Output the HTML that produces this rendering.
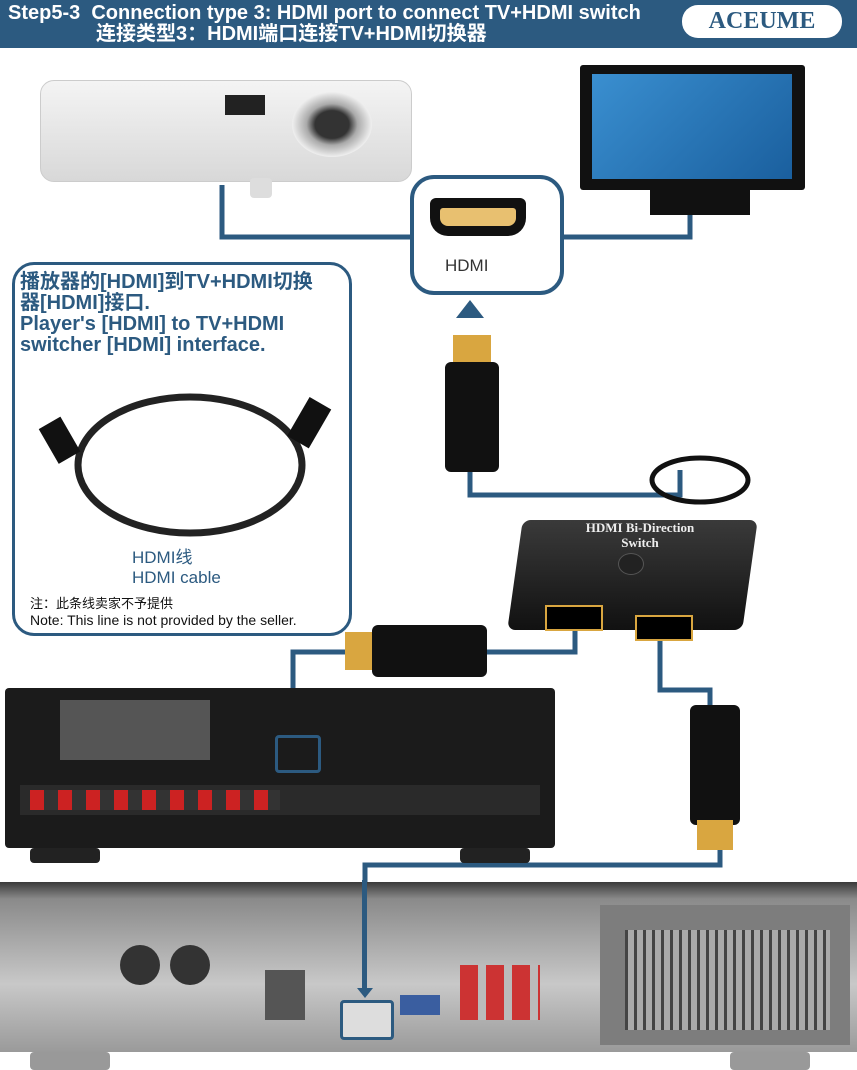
<!DOCTYPE html>
<html><head><meta charset="utf-8"><style>
body{margin:0;width:857px;height:1070px;position:relative;overflow:hidden;background:#fff;font-family:"Liberation Sans","Noto Sans CJK SC",sans-serif}
.a{position:absolute}
</style></head><body>
<div class="a" style="left:0;top:0;width:857px;height:48px;background:#2c5a80"></div>
<div class="a" style="left:8px;top:3px;color:#fff;font-weight:bold;font-size:20px;line-height:21px;white-space:nowrap">Step5-3&nbsp; Connection type 3: HDMI port to connect TV+HDMI switch<br><span style="padding-left:88px">连接类型3：HDMI端口连接TV+HDMI切换器</span></div>
<div class="a" style="left:682px;top:5px;width:160px;height:33px;background:#fff;border-radius:16px;color:#2c5a80;font:bold 24px 'Liberation Serif',serif;text-align:center;line-height:33px">ACEUME</div>
<!-- projector -->
<div class="a" style="left:40px;top:80px;width:370px;height:100px;background:linear-gradient(#f4f4f4,#d8d8d8);border-radius:14px;border:1px solid #ccc"></div>
<div class="a" style="left:225px;top:95px;width:40px;height:20px;background:#222"></div>
<div class="a" style="left:292px;top:92px;width:80px;height:65px;border-radius:50%;background:radial-gradient(#333 30%,#aaa 45%,#eee 70%)"></div>
<div class="a" style="left:250px;top:178px;width:22px;height:20px;background:#ddd;border-radius:4px"></div>
<!-- TV -->
<div class="a" style="left:580px;top:65px;width:225px;height:125px;background:#111;border-radius:3px"></div>
<div class="a" style="left:592px;top:74px;width:200px;height:105px;background:linear-gradient(135deg,#3a8fd0,#1a5f9e)"></div>
<div class="a" style="left:650px;top:190px;width:100px;height:25px;background:#111"></div>
<!-- lines -->
<svg class="a" style="left:0;top:0" width="857" height="1070">
<g fill="none" stroke="#2c5a80" stroke-width="5">
<path d="M222 185 V237 H412"/><path d="M558 237 H690 V215"/>
<path d="M470 340 V495 H680 V470"/>
<path d="M575 625 V652 H293 V715"/>
<path d="M660 630 V690 H710 V705"/>
<path d="M720 850 V865 H365 V1000"/>
</g>
<path d="M470 300 l-14 18 h28z" fill="#2c5a80"/>
<path d="M293 722 l-8 -10 h16z" fill="#2c5a80"/>
<ellipse cx="700" cy="480" rx="48" ry="22" fill="none" stroke="#111" stroke-width="5"/>
</svg>
<div class="a" style="left:410px;top:175px;width:146px;height:112px;border:4px solid #2c5a80;border-radius:24px;background:#fff"></div>
<div class="a" style="left:430px;top:198px;width:96px;height:38px;background:#111;border-radius:6px 6px 18px 18px"></div>
<div class="a" style="left:440px;top:208px;width:76px;height:18px;background:#e8c070;border-radius:3px 3px 8px 8px"></div>
<div class="a" style="left:445px;top:256px;font-size:17px;color:#333">HDMI</div>
<!-- callout -->
<div class="a" style="left:12px;top:262px;width:334px;height:368px;border:3px solid #2c5a80;border-radius:22px;background:#fff"></div>
<div class="a" style="left:20px;top:272px;color:#2c5a80;font-weight:bold;font-size:20px;line-height:21px;white-space:nowrap">播放器的[HDMI]到TV+HDMI切换<br>器[HDMI]接口.<br>Player's [HDMI] to TV+HDMI<br>switcher [HDMI] interface.</div>
<svg class="a" style="left:12px;top:380px" width="334" height="160"><ellipse cx="178" cy="85" rx="112" ry="68" fill="none" stroke="#222" stroke-width="7"/><rect x="35" y="40" width="25" height="40" fill="#111" transform="rotate(-30 48 60)"/><rect x="285" y="20" width="25" height="45" fill="#111" transform="rotate(30 297 42)"/></svg>
<div class="a" style="left:132px;top:548px;color:#2c5a80;font-size:17px;line-height:20px">HDMI线<br>HDMI cable</div>
<div class="a" style="left:30px;top:596px;font-size:13px;color:#111;line-height:16px">注：此条线卖家不予提供<br><span style="font-size:14px">Note: This line is not provided by the seller.</span></div>
<!-- vertical cable -->
<div class="a" style="left:453px;top:335px;width:38px;height:30px;background:#d9a640"></div>
<div class="a" style="left:445px;top:362px;width:54px;height:110px;background:#111;border-radius:6px"></div>
<!-- switch -->
<div class="a" style="left:515px;top:520px;width:235px;height:110px;background:linear-gradient(#3a3a3a,#111);border-radius:8px;transform:skewX(-8deg)"></div>
<div class="a" style="left:560px;top:520px;color:#eee;font:bold 13px 'Liberation Serif',serif;text-align:center;width:160px;line-height:15px">HDMI Bi-Direction<br>Switch</div>
<div class="a" style="left:618px;top:553px;width:24px;height:20px;border-radius:50%;background:#222;border:1px solid #555"></div>
<div class="a" style="left:545px;top:605px;width:54px;height:22px;background:#000;border:2px solid #d9a640"></div>
<div class="a" style="left:635px;top:615px;width:54px;height:22px;background:#000;border:2px solid #d9a640"></div>
<!-- left horizontal cable -->
<div class="a" style="left:345px;top:632px;width:30px;height:38px;background:#d9a640"></div>
<div class="a" style="left:372px;top:625px;width:115px;height:52px;background:#111;border-radius:6px"></div>
<!-- right vertical cable -->
<div class="a" style="left:690px;top:705px;width:50px;height:120px;background:#111;border-radius:6px"></div>
<div class="a" style="left:697px;top:820px;width:36px;height:30px;background:#d9a640"></div>
<!-- receiver -->
<div class="a" style="left:5px;top:688px;width:550px;height:160px;background:#1b1b1b;border-radius:4px"></div>
<div class="a" style="left:20px;top:785px;width:520px;height:30px;background:#2a2a2a"></div>
<div class="a" style="left:30px;top:790px;width:250px;height:20px;background:repeating-linear-gradient(90deg,#c22 0 14px,#333 14px 28px)"></div>
<div class="a" style="left:60px;top:700px;width:150px;height:60px;background:#555"></div>
<div class="a" style="left:275px;top:735px;width:40px;height:32px;border:3px solid #2c5a80;border-radius:4px"></div>
<div class="a" style="left:30px;top:848px;width:70px;height:15px;background:#222;border-radius:4px"></div>
<div class="a" style="left:460px;top:848px;width:70px;height:15px;background:#222;border-radius:4px"></div>
<!-- player -->
<div class="a" style="left:0;top:882px;width:857px;height:170px;background:linear-gradient(#3a3a3a,#8a8a8a 10%,#c8c8c8 60%,#9a9a9a)"></div>
<div class="a" style="left:600px;top:905px;width:250px;height:140px;background:#7d7d7d"></div>
<div class="a" style="left:625px;top:930px;width:205px;height:100px;background:repeating-linear-gradient(90deg,#444 0 3px,#aaa 3px 9px)"></div>
<div class="a" style="left:120px;top:945px;width:40px;height:40px;border-radius:50%;background:#333"></div>
<div class="a" style="left:170px;top:945px;width:40px;height:40px;border-radius:50%;background:#333"></div>
<div class="a" style="left:265px;top:970px;width:40px;height:50px;background:#555"></div>
<div class="a" style="left:362px;top:880px;width:5px;height:110px;background:#2c5a80"></div>
<div class="a" style="left:357px;top:988px;width:0;height:0;border-left:8px solid transparent;border-right:8px solid transparent;border-top:10px solid #2c5a80"></div>
<div class="a" style="left:340px;top:1000px;width:48px;height:34px;border:3px solid #2c5a80;border-radius:4px;background:#ddd"></div>
<div class="a" style="left:400px;top:995px;width:40px;height:20px;background:#3a5ea0"></div>
<div class="a" style="left:460px;top:965px;width:80px;height:55px;background:repeating-linear-gradient(90deg,#c33 0 18px,#bbb 18px 26px)"></div>
<div class="a" style="left:30px;top:1052px;width:80px;height:18px;background:#999;border-radius:4px"></div>
<div class="a" style="left:730px;top:1052px;width:80px;height:18px;background:#999;border-radius:4px"></div>
</body></html>
